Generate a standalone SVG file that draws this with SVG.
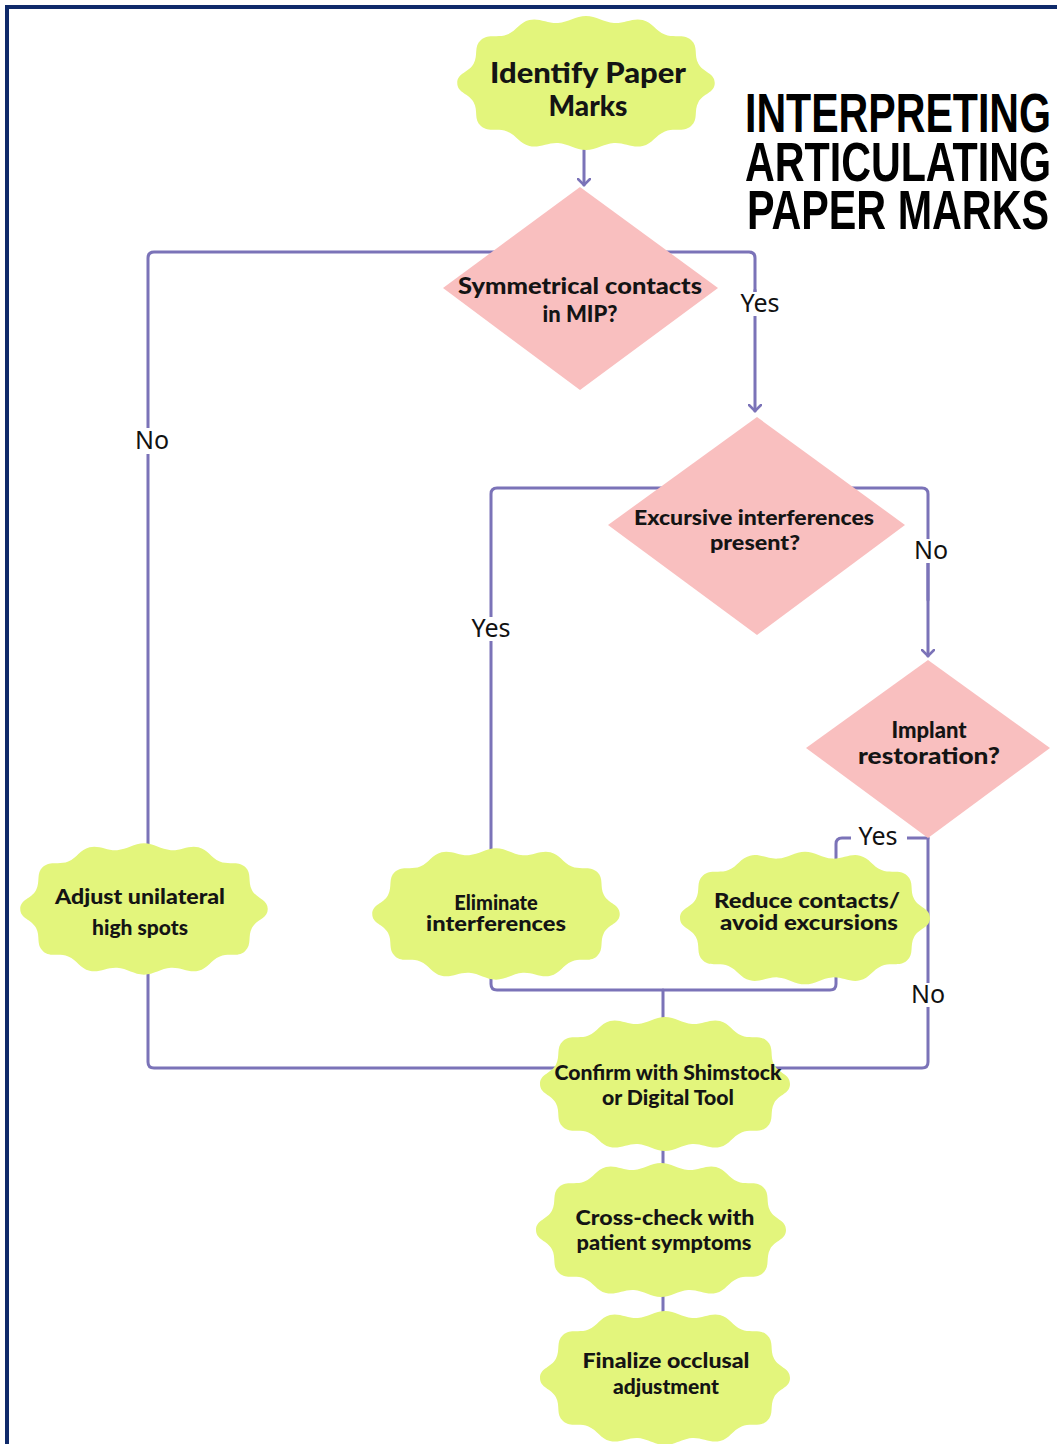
<svg xmlns="http://www.w3.org/2000/svg" xmlns:xlink="http://www.w3.org/1999/xlink" width="1057" height="1444" viewBox="0 0 1057 1444">
<style>
.conn{fill:none;stroke:#7b73b8;stroke-width:3;stroke-linecap:round;stroke-linejoin:round}
.cloud{fill:#e3f57c}
.dia{fill:#f9bfbf}
.nt{font-family:Lato,"Noto Sans",sans-serif;font-weight:900;fill:#141414;text-anchor:middle}
.lbl{font-family:"Noto Sans","DejaVu Sans",sans-serif;font-size:25px;fill:#111;text-anchor:middle}
.title{font-family:"Liberation Sans",Arial,sans-serif;font-weight:700;font-size:56px;fill:#000}
</style>
<defs>
<path id="cloudShape" d="M-125,0 C-125,-10 -113.8,-10.35 -109.1,-19.15 C-104.4,-27.95 -109.4,-36.3 -102,-43 C-94.6,-49.7 -85.75,-44.5 -76.55,-48.4 C-67.35,-52.3 -64.7,-60.6 -55,-63 C-45.3,-65.4 -37.15,-59.3 -27.15,-60 C-17.15,-60.7 -10,-67 0,-67 C10,-67 17.15,-60.7 27.15,-60 C37.15,-59.3 45.3,-65.4 55,-63 C64.7,-60.6 67.35,-52.3 76.55,-48.4 C85.75,-44.5 94.6,-49.7 102,-43 C109.4,-36.3 104.4,-27.95 109.1,-19.15 C113.8,-10.35 125,-10 125,0 C125,10 113.8,10.35 109.1,19.15 C104.4,27.95 109.4,36.3 102,43 C94.6,49.7 85.75,44.5 76.55,48.4 C67.35,52.3 64.7,60.6 55,63 C45.3,65.4 37.15,59.3 27.15,60 C17.15,60.7 10,67 0,67 C-10,67 -17.15,60.7 -27.15,60 C-37.15,59.3 -45.3,65.4 -55,63 C-64.7,60.6 -67.35,52.3 -76.55,48.4 C-85.75,44.5 -94.6,49.7 -102,43 C-109.4,36.3 -104.4,27.95 -109.1,19.15 C-113.8,10.35 -125,10 -125,0 Z"/>
<marker id="arr" markerUnits="userSpaceOnUse" markerWidth="14" markerHeight="14" refX="7" refY="6" orient="auto" viewBox="0 0 14 12">
<path d="M1,0 L7,6 L1,12" fill="none" stroke="#7b73b8" stroke-width="2.5" stroke-linecap="round" stroke-linejoin="round"/>
</marker>
</defs>
<rect x="0" y="0" width="1057" height="1444" fill="#ffffff"/>
<rect x="7" y="7" width="1100" height="1500" fill="none" stroke="#0f2a6a" stroke-width="4"/>

<g id="connectors">
<path class="conn" d="M584,150 V185" marker-end="url(#arr)"/>
<path class="conn" d="M755,300 V258 Q755,252 749,252 H154 Q148,252 148,258 V1062 Q148,1068 154,1068 H922 Q928,1068 928,1062 V838"/>
<path class="conn" d="M755,290 V411" marker-end="url(#arr)"/>
<path class="conn" d="M928,600 V494 Q928,488 922,488 H497 Q491,488 491,494 V984 Q491,990 497,990 H830 Q836,990 836,984 V844 Q836,838 842,838 H928"/>
<path class="conn" d="M928,560 V656" marker-end="url(#arr)"/>
<path class="conn" d="M663,990 V1022"/>
<path class="conn" d="M663,1148 V1168"/>
<path class="conn" d="M663,1294 V1316"/>
</g>

<g id="title">
<text class="title" x="745" y="132" textLength="306" lengthAdjust="spacingAndGlyphs">INTERPRETING</text>
<text class="title" x="745" y="181" textLength="306" lengthAdjust="spacingAndGlyphs">ARTICULATING</text>
<text class="title" x="747" y="229" textLength="302" lengthAdjust="spacingAndGlyphs">PAPER MARKS</text>
</g>

<g id="n-identify">
<use xlink:href="#cloudShape" href="#cloudShape" class="cloud" transform="translate(586,83) scale(1.03,1)"/>
<text class="nt" font-size="28" x="588" y="83" textLength="196" lengthAdjust="spacingAndGlyphs">Identify Paper</text>
<text class="nt" font-size="28" x="588" y="116">Marks</text>
</g>

<g id="n-symmetrical">
<polygon class="dia" points="580,187 718,288 580,390 443,288"/>
<text class="nt" font-size="22" x="580" y="294" textLength="244" lengthAdjust="spacingAndGlyphs">Symmetrical contacts</text>
<text class="nt" font-size="22" x="580" y="322">in MIP?</text>
</g>

<g id="n-excursive">
<polygon class="dia" points="757,417 905,525 757,635 608,525"/>
<text class="nt" font-size="20" x="754" y="525" textLength="240" lengthAdjust="spacingAndGlyphs">Excursive interferences</text>
<text class="nt" font-size="21" x="755" y="550" textLength="90" lengthAdjust="spacingAndGlyphs">present?</text>
</g>

<g id="n-implant">
<polygon class="dia" points="928,660 1050,748 928,838 806,748"/>
<text class="nt" font-size="22" x="929" y="738">Implant</text>
<text class="nt" font-size="22" x="929" y="764" textLength="142" lengthAdjust="spacingAndGlyphs">restoration?</text>
</g>

<g id="n-adjust">
<use xlink:href="#cloudShape" href="#cloudShape" class="cloud" transform="translate(144,909) scale(0.99,0.98)"/>
<text class="nt" font-size="21" x="140" y="904" textLength="170" lengthAdjust="spacingAndGlyphs">Adjust unilateral</text>
<text class="nt" font-size="21" x="140" y="935">high spots</text>
</g>

<g id="n-eliminate">
<use xlink:href="#cloudShape" href="#cloudShape" class="cloud" transform="translate(496,914) scale(0.99,0.98)"/>
<text class="nt" font-size="20" x="496" y="910">Eliminate</text>
<text class="nt" font-size="20" x="496" y="931" textLength="140" lengthAdjust="spacingAndGlyphs">interferences</text>
</g>

<g id="n-reduce">
<use xlink:href="#cloudShape" href="#cloudShape" class="cloud" transform="translate(805,918) scale(1,0.99)"/>
<text class="nt" font-size="20" x="807" y="908" textLength="186" lengthAdjust="spacingAndGlyphs">Reduce contacts/</text>
<text class="nt" font-size="20" x="809" y="930" textLength="178" lengthAdjust="spacingAndGlyphs">avoid excursions</text>
</g>

<g id="n-confirm">
<use xlink:href="#cloudShape" href="#cloudShape" class="cloud" transform="translate(665,1084)"/>
<text class="nt" font-size="20" x="668" y="1080" textLength="227" lengthAdjust="spacingAndGlyphs">Confirm with Shimstock</text>
<text class="nt" font-size="20" x="668" y="1105" textLength="132" lengthAdjust="spacingAndGlyphs">or Digital Tool</text>
</g>

<g id="n-crosscheck">
<use xlink:href="#cloudShape" href="#cloudShape" class="cloud" transform="translate(661,1230)"/>
<text class="nt" font-size="21" x="665" y="1225" textLength="179" lengthAdjust="spacingAndGlyphs">Cross-check with</text>
<text class="nt" font-size="21" x="664" y="1250" textLength="175" lengthAdjust="spacingAndGlyphs">patient symptoms</text>
</g>

<g id="n-finalize">
<use xlink:href="#cloudShape" href="#cloudShape" class="cloud" transform="translate(665,1378)"/>
<text class="nt" font-size="21" x="666" y="1368" textLength="167" lengthAdjust="spacingAndGlyphs">Finalize occlusal</text>
<text class="nt" font-size="21" x="666" y="1394">adjustment</text>
</g>

<g id="labels">
<rect x="126" y="428" width="52" height="26" fill="#fff"/>
<text class="lbl" font-size="26" x="152" y="449">No</text>
<rect x="731" y="292" width="58" height="24" fill="#fff"/>
<text class="lbl" x="760" y="312">Yes</text>
<rect x="464" y="617" width="55" height="24" fill="#fff"/>
<text class="lbl" x="491" y="637">Yes</text>
<rect x="907" y="539" width="48" height="24" fill="#fff"/>
<text class="lbl" x="931" y="559">No</text>
<rect x="851" y="826" width="56" height="22" fill="#fff"/>
<text class="lbl" x="878" y="845">Yes</text>
<rect x="903" y="983" width="50" height="24" fill="#fff"/>
<text class="lbl" x="928" y="1003">No</text>
</g>
</svg>
